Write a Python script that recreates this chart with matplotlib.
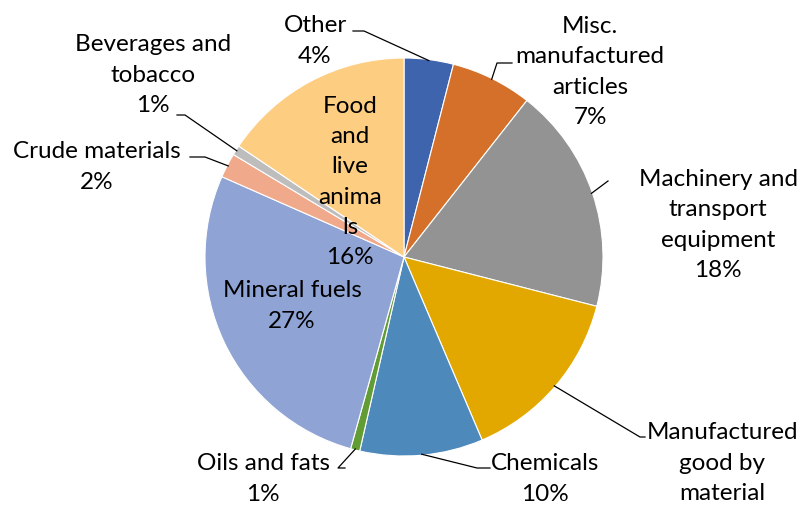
import numpy as np
import matplotlib.pyplot as plt

plt.rcParams['font.family'] = ['Lato', 'DejaVu Sans']

# slice order as drawn: clockwise from 12 o'clock
categories = ["Other", "Misc.\nmanufactured\narticles", "Machinery and\ntransport\nequipment",
              "Manufactured\ngood by\nmaterial", "Chemicals", "Oils and fats", "Mineral fuels",
              "Crude materials", "Beverages and\ntobacco", "Food\nand\nlive\nanima\nls"]
values = [4.0, 6.6, 18.4, 14.6, 10.0, 0.75, 27.3, 2.0, 0.8, 15.6]
colors = ["#3F64AE", "#D4702A", "#939393", "#E2A800", "#4E89BC",
          "#629C35", "#8FA3D4", "#F0A98B", "#BDBDBD", "#FDCD82"]

W, H = 802, 507
CX, CY, R = 404, 257, 199


def px(x, y):
    return ((x - CX) / R, (CY - y) / R)


fig = plt.figure(figsize=(W / 100, H / 100), dpi=100)
ax = fig.add_axes([0, 0, 1, 1])
wedges, _ = ax.pie(values, colors=colors, startangle=90, counterclock=False,
                   wedgeprops=dict(edgecolor="white", linewidth=0.8))
ax.set_aspect('auto')
ax.set_xlim(-CX / R, (W - CX) / R)
ax.set_ylim(-(H - CY) / R, CY / R)
ax.axis('off')

total = sum(values)
pcts = ["%d%%" % round(v / total * 100) for v in values]
pcts[3] = None  # percentage falls below the bottom edge in the original

# label layout: text centre (px), elbow points (px) or None for inside labels
layout = {
    0: ((315, 41), (353, 31), (364, 31)),
    1: ((590, 72), (512, 63), (497, 63)),
    2: ((718, 225), (608, 181), None),
    3: ((722, 463), (645, 437), (640, 437)),
    4: ((545, 479), (490, 468), (477, 468)),
    5: ((263, 479), (345, 468), (338, 468)),
    6: ((292, 306), None, None),
    7: ((97, 167), (190, 157), (205, 157)),
    8: ((153, 75), (177, 115), (185, 115)),
    9: ((350, 182), None, None),
}

for i, w in enumerate(wedges):
    (tx, ty), p1, p2 = layout[i]
    label = categories[i] if pcts[i] is None else categories[i] + "\n" + pcts[i]
    ax.text(*px(tx, ty), label, ha='center', va='center',
            fontsize=17.5, color='#000000', linespacing=1.55)
    if p1 is None:
        continue
    ang = np.deg2rad((w.theta1 + w.theta2) / 2)
    ex, ey = np.cos(ang) * 0.995, np.sin(ang) * 0.995
    pts = [p1] + ([p2] if p2 else [])
    xs = [px(*p)[0] for p in pts] + [ex]
    ys = [px(*p)[1] for p in pts] + [ey]
    ax.plot(xs, ys, color='black', linewidth=0.9)

fig.savefig("out.png", dpi=100)
